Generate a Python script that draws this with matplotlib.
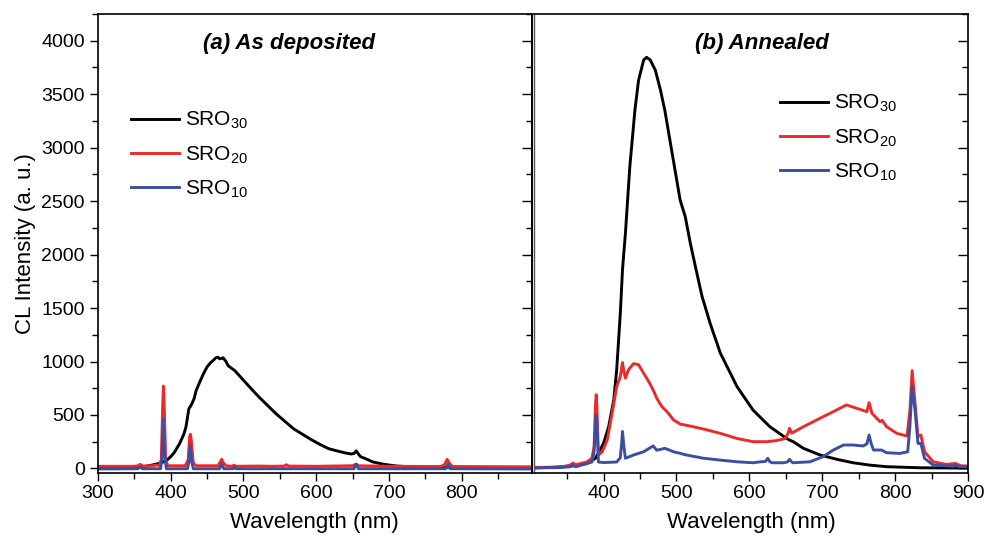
import matplotlib
matplotlib.use("Agg")
import matplotlib.pyplot as plt
from matplotlib.ticker import MultipleLocator

plt.rcParams['font.family'] = ['Liberation Sans', 'DejaVu Sans']
plt.rcParams['mathtext.fontset'] = 'custom'
plt.rcParams['mathtext.rm'] = 'Liberation Sans'
plt.rcParams['mathtext.it'] = 'Liberation Sans:italic'

# ---------------- (a) As deposited ----------------
a_wl_30 = [300, 340, 360, 370, 380, 388, 395, 400, 405, 412, 418, 421, 425, 428, 432, 435, 440, 445, 450,
           455, 460, 462, 465, 467, 470, 472, 476, 479, 483, 488, 494, 500, 510, 521, 533, 545, 557, 569,
           581, 593, 605, 617, 628, 640, 648, 652, 655, 658, 661, 670, 678, 685, 692, 700, 711, 722, 735,
           760, 800, 850, 896]
a_sro30 = [5, 8, 15, 25, 40, 55, 80, 110, 150, 230, 320, 390, 560, 590, 650, 730, 810, 885, 950,
           990, 1020, 1035, 1040, 1025, 1030, 1035, 1000, 960, 940, 915, 870, 825, 750, 670, 590, 510, 440, 370,
           320, 270, 225, 185, 165, 145, 135, 140, 165, 135, 110, 85, 60, 50, 40, 32, 22, 18, 15,
           12, 10, 8, 8]

a_wl_20 = [300, 350, 355, 358, 362, 375, 380, 384, 387, 389, 390, 391, 393, 396, 420, 424, 426, 427, 428,
           431, 435, 465, 468, 470, 472, 476, 484, 487, 490, 520, 540, 556, 559, 562, 600, 650, 655, 658,
           700, 770, 776, 780, 783, 787, 896]
a_sro20 = [20, 20, 25, 38, 22, 25, 32, 28, 80, 600, 770, 600, 80, 25, 25, 80, 300, 320, 280,
           50, 25, 25, 60, 85, 55, 25, 20, 30, 20, 22, 20, 22, 35, 22, 20, 25, 40, 25,
           20, 18, 30, 85, 50, 18, 15]

a_wl_10 = [300, 355, 358, 361, 386, 388, 390, 392, 394, 423, 425, 427, 429, 431, 467, 470, 473, 486, 488,
           490, 652, 655, 658, 778, 781, 784, 896]
a_sro10 = [-5, -3, 15, -3, -3, 100, 460, 100, -3, -3, 60, 220, 60, -3, -3, 40, -3, -3, 15,
           -3, -3, 40, -3, -3, 40, -3, -5]

# ---------------- (b) Annealed ----------------
b_wl_30 = [304, 330, 354, 377, 389, 400, 407, 414, 418, 423, 426, 430, 436, 443, 448, 455, 459, 464,
           471, 478, 484, 491, 498, 505, 512, 519, 526, 535, 546, 560, 583, 605, 628, 651, 656, 660,
           674, 697, 720, 742, 765, 788, 834, 900]
b_sro30 = [5, 10, 20, 45, 95, 235, 390, 640, 920, 1450, 1860, 2200, 2820, 3350, 3630, 3820, 3845, 3820,
           3725, 3540, 3350, 3070, 2790, 2510, 2355, 2105, 1885, 1610, 1360, 1080, 765, 545, 390, 280, 262, 250,
           188, 125, 85, 53, 31, 16, 6, 3]

b_wl_20 = [304, 340, 354, 358, 362, 377, 384, 387, 389, 390, 391, 393, 398, 405, 411, 418, 423, 425, 426,
           428, 430, 434, 441, 448, 455, 462, 468, 473, 480, 487, 496, 505, 523, 542, 560, 583, 605, 624,
           637, 649, 653, 655, 658, 674, 697, 715, 733, 747, 761, 764, 768, 779, 782, 788, 802, 816,
           820, 823, 827, 831, 835, 840, 852, 870, 882, 890, 900]
b_sro20 = [10, 12, 30, 50, 35, 60, 95, 200, 600, 690, 560, 125, 155, 265, 485, 765, 860, 950, 990,
           900, 845, 920, 980, 970, 890, 812, 734, 656, 578, 531, 453, 415, 390, 360, 328, 280, 250, 250,
           260, 280, 330, 375, 330, 390, 470, 531, 594, 562, 531, 615, 515, 437, 450, 390, 328, 303,
           547, 915, 609, 297, 312, 156, 62, 37, 47, 25, 22]

b_wl_10 = [304, 340, 354, 358, 362, 384, 387, 389, 390, 391, 393, 400, 418, 423, 425, 426, 428, 430,
           441, 455, 468, 473, 484, 496, 514, 537, 560, 583, 605, 615, 622, 625, 628, 631, 647, 652, 655,
           658, 660, 683, 701, 715, 729, 742, 756, 761, 764, 767, 770, 781, 788, 806, 817, 820, 823, 827,
           831, 835, 840, 852, 880, 883, 886, 900]
b_sro10 = [5, 8, 15, 30, 15, 60, 150, 420, 500, 400, 60, 55, 60, 100, 250, 345, 200, 95,
           125, 156, 210, 170, 188, 156, 125, 95, 78, 62, 53, 62, 65, 95, 62, 53, 53, 60, 85,
           60, 53, 62, 110, 172, 219, 219, 210, 230, 312, 230, 172, 172, 147, 140, 156, 400, 765, 547,
           234, 234, 94, 31, 20, 35, 18, 16]

labels = ['SRO$_{30}$', 'SRO$_{20}$', 'SRO$_{10}$']
colors = ['#000000', '#ec2a2a', '#3a4ea3']

W, H = 987, 536
fig = plt.figure(figsize=(W / 100, H / 100), dpi=100)
bottom = (H - 472.7) / H
height = (472.7 - 14) / H
axA = fig.add_axes([98 / W, bottom, (531.5 - 98) / W, height])
axB = fig.add_axes([533.5 / W, bottom, (968.3 - 533.5) / W, height])

lw = 2.1
axA.plot(a_wl_30, a_sro30, color=colors[0], lw=lw, label=labels[0])
axA.plot(a_wl_20, a_sro20, color=colors[1], lw=lw, label=labels[1])
axA.plot(a_wl_10, a_sro10, color=colors[2], lw=lw, label=labels[2])

axB.plot(b_wl_30, b_sro30, color=colors[0], lw=lw, label=labels[0])
axB.plot(b_wl_20, b_sro20, color=colors[1], lw=lw, label=labels[1])
axB.plot(b_wl_10, b_sro10, color=colors[2], lw=lw, label=labels[2])

ymin, ymax = -40, 4250
axA.set_xlim(300, 896)
axB.set_xlim(304, 900)
for ax in (axA, axB):
    ax.set_ylim(ymin, ymax)
    ax.yaxis.set_major_locator(MultipleLocator(500))
    ax.yaxis.set_minor_locator(MultipleLocator(250))
    ax.xaxis.set_major_locator(MultipleLocator(100))
    ax.xaxis.set_minor_locator(MultipleLocator(50))
    ax.tick_params(axis='x', which='both', direction='out', top=False, labelsize=14, pad=3)
    ax.tick_params(axis='x', which='major', length=6, width=1)
    ax.tick_params(axis='x', which='minor', length=4, width=1)
    for s in ax.spines.values():
        s.set_linewidth(1.2)
    ax.set_xlabel('Wavelength (nm)', fontsize=16, labelpad=7)

axB.spines['left'].set_color('#555555')
axB.spines['left'].set_linewidth(1.0)

axA.set_xticks([300, 400, 500, 600, 700, 800])
axB.set_xticks([400, 500, 600, 700, 800, 900])

axA.tick_params(axis='y', which='both', left=True, right=False, labelleft=True, labelsize=14)
axA.tick_params(axis='y', which='both', direction='out')
axA.tick_params(axis='y', which='major', length=6, width=1)
axA.tick_params(axis='y', which='minor', length=4, width=1)
# right side ticks inward for left panel
axA2 = axA.secondary_yaxis('right')
axA2.yaxis.set_major_locator(MultipleLocator(500))
axA2.yaxis.set_minor_locator(MultipleLocator(250))
axA2.tick_params(axis='y', which='both', direction='in', labelright=False)
axA2.tick_params(axis='y', which='major', length=7, width=1)
axA2.tick_params(axis='y', which='minor', length=4, width=1)
axA2.spines['right'].set_linewidth(1.2)
axA.set_ylabel('CL Intensity (a. u.)', fontsize=16, labelpad=4)

axB.tick_params(axis='y', which='both', left=False, right=True, labelleft=False,
                direction='in')
axB.tick_params(axis='y', which='major', length=7, width=1)
axB.tick_params(axis='y', which='minor', length=4, width=1)

axA.text(0.44, 0.936, '(a) As deposited', transform=axA.transAxes, ha='center', va='center',
         fontsize=16, fontweight='bold', fontstyle='italic')
axB.text(0.525, 0.936, '(b) Annealed', transform=axB.transAxes, ha='center', va='center',
         fontsize=16, fontweight='bold', fontstyle='italic')

legkw = dict(frameon=False, fontsize=15, handlelength=2.3, handletextpad=0.3,
             labelspacing=0.62, borderaxespad=0, borderpad=0)
axA.legend(loc='upper left', bbox_to_anchor=((131 - 98) / (531.5 - 98), 1 - (110 - 14) / 458.7), **legkw)
axB.legend(loc='upper left', bbox_to_anchor=((780 - 533.5) / (968.3 - 533.5), 1 - (93 - 14) / 458.7), **legkw)

fig.savefig('out.png', dpi=100)
